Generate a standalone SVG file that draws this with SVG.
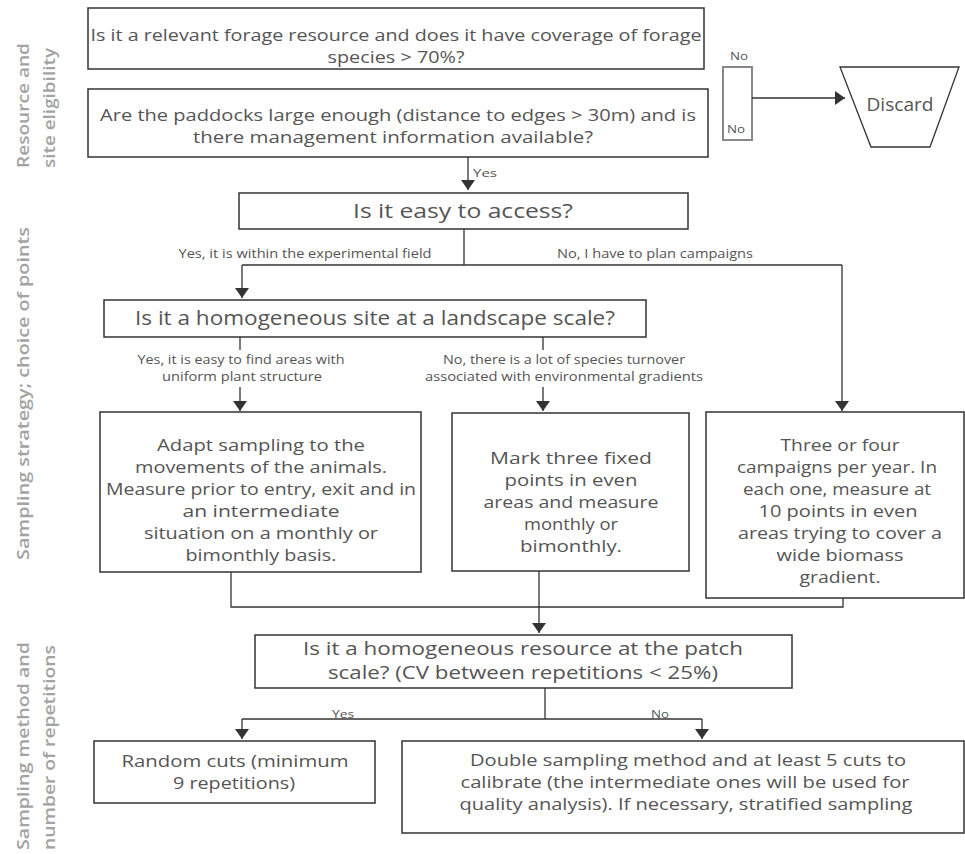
<svg xmlns="http://www.w3.org/2000/svg" width="965" height="854" viewBox="0 0 965 854">
<defs>
<style>
.box{fill:#fff;stroke:#333;stroke-width:1.5}
.t{font-family:"Open Sans","Liberation Sans",sans-serif;fill:#555;text-anchor:middle}
.m{font-size:16.5px}
.l{font-size:19.5px}
.s{font-size:12.5px}
.xs{font-size:11.5px}
.side{font-family:"Open Sans","Liberation Sans",sans-serif;fill:#a3a3a3;font-size:17px;font-weight:600;text-anchor:start}
.c{fill:none;stroke:#333;stroke-width:1.3}
</style>
<marker id="ah" markerWidth="10" markerHeight="14" refX="10" refY="7" orient="auto" markerUnits="userSpaceOnUse">
<path d="M0,0 L10,7 L0,14 Z" fill="#333"/>
</marker>
</defs>
<rect width="965" height="854" fill="#fff"/>

<g id="side-labels">
<text class="side" transform="translate(29,168) rotate(-90)" textLength="125" lengthAdjust="spacingAndGlyphs">Resource and</text>
<text class="side" transform="translate(55,168) rotate(-90)" textLength="120" lengthAdjust="spacingAndGlyphs">site eligibility</text>
<text class="side" transform="translate(29,560) rotate(-90)" textLength="333" lengthAdjust="spacingAndGlyphs">Sampling strategy; choice of points</text>
<text class="side" transform="translate(29,850) rotate(-90)" textLength="208" lengthAdjust="spacingAndGlyphs">Sampling method and</text>
<text class="side" transform="translate(55,850) rotate(-90)" textLength="205" lengthAdjust="spacingAndGlyphs">number of repetitions</text>
</g>

<g id="node-no">
<rect x="723" y="67" width="29" height="73" fill="#fff" stroke="#888" stroke-width="2"/>
<text class="t xs" x="739" y="60" textLength="18" lengthAdjust="spacingAndGlyphs">No</text>
<text class="t xs" x="736" y="133" textLength="18" lengthAdjust="spacingAndGlyphs">No</text>
</g>

<g id="connectors">
<path class="c" d="M752,98 H845" marker-end="url(#ah)"/>
<path class="c" d="M468,157 V190" marker-end="url(#ah)"/>
<path class="c" d="M464,229 V265"/>
<path class="c" d="M242,265 H842"/>
<path class="c" d="M242,265 V298" marker-end="url(#ah)"/>
<path class="c" d="M842,265 V411" marker-end="url(#ah)"/>
<path class="c" d="M240,337 V350"/>
<path class="c" d="M240,387 V411" marker-end="url(#ah)"/>
<path class="c" d="M543,337 V350"/>
<path class="c" d="M543,387 V411" marker-end="url(#ah)"/>
<path class="c" d="M231,572 V607 H843 V598"/>
<path class="c" d="M539,571 V633" marker-end="url(#ah)"/>
<path class="c" d="M545,688 V719"/>
<path class="c" d="M242,719 H702"/>
<path class="c" d="M242,719 V739" marker-end="url(#ah)"/>
<path class="c" d="M702,719 V739" marker-end="url(#ah)"/>
<text class="t xs" x="485" y="177" textLength="24" lengthAdjust="spacingAndGlyphs">Yes</text>
<text class="t s" x="305" y="258" textLength="253" lengthAdjust="spacingAndGlyphs">Yes, it is within the experimental field</text>
<text class="t s" x="655" y="258" textLength="196" lengthAdjust="spacingAndGlyphs">No, I have to plan campaigns</text>
<text class="t s" x="241" y="364" textLength="207" lengthAdjust="spacingAndGlyphs">Yes, it is easy to find areas with</text>
<text class="t s" x="242" y="381" textLength="160" lengthAdjust="spacingAndGlyphs">uniform plant structure</text>
<text class="t s" x="564" y="364" textLength="242" lengthAdjust="spacingAndGlyphs">No, there is a lot of species turnover</text>
<text class="t s" x="564" y="381" textLength="278" lengthAdjust="spacingAndGlyphs">associated with environmental gradients</text>
<text class="t xs" x="343" y="718" textLength="22" lengthAdjust="spacingAndGlyphs">Yes</text>
<text class="t xs" x="660" y="718" textLength="18" lengthAdjust="spacingAndGlyphs">No</text>
</g>

<g id="node-forage">
<rect class="box" x="88" y="8" width="616" height="61"/>
<text class="t m" x="396" y="41" textLength="611" lengthAdjust="spacingAndGlyphs">Is it a relevant forage resource and does it have coverage of forage</text>
<text class="t m" x="396" y="63" textLength="137" lengthAdjust="spacingAndGlyphs">species &gt; 70%?</text>
</g>

<g id="node-paddocks">
<rect class="box" x="88" y="89" width="620" height="68"/>
<text class="t m" x="398" y="121" textLength="596" lengthAdjust="spacingAndGlyphs">Are the paddocks large enough (distance to edges &gt; 30m) and is</text>
<text class="t m" x="393" y="143" textLength="400" lengthAdjust="spacingAndGlyphs">there management information available?</text>
</g>

<g id="node-discard">
<polygon points="840,67 959,67 930,147 871,147" fill="#fff" stroke="#333" stroke-width="1.3"/>
<text class="t" x="900" y="111" font-size="19" textLength="67" lengthAdjust="spacingAndGlyphs">Discard</text>
</g>

<g id="node-access">
<rect class="box" x="239" y="193" width="449" height="36"/>
<text class="t l" x="463" y="218" textLength="220" lengthAdjust="spacingAndGlyphs">Is it easy to access?</text>
</g>

<g id="node-landscape">
<rect class="box" x="104" y="300" width="542" height="37"/>
<text class="t l" x="375" y="325" textLength="480" lengthAdjust="spacingAndGlyphs">Is it a homogeneous site at a landscape scale?</text>
</g>

<g id="node-adapt">
<rect class="box" x="100" y="412" width="321" height="160"/>
<text class="t m" x="261" y="451" textLength="208" lengthAdjust="spacingAndGlyphs">Adapt sampling to the</text>
<text class="t m" x="261" y="473" textLength="252" lengthAdjust="spacingAndGlyphs">movements of the animals.</text>
<text class="t m" x="261" y="495" textLength="310" lengthAdjust="spacingAndGlyphs">Measure prior to entry, exit and in</text>
<text class="t m" x="261" y="517" textLength="157" lengthAdjust="spacingAndGlyphs">an intermediate</text>
<text class="t m" x="261" y="539" textLength="234" lengthAdjust="spacingAndGlyphs">situation on a monthly or</text>
<text class="t m" x="261" y="561" textLength="151" lengthAdjust="spacingAndGlyphs">bimonthly basis.</text>
</g>

<g id="node-mark">
<rect class="box" x="452" y="413" width="237" height="158"/>
<text class="t m" x="571" y="464" textLength="162" lengthAdjust="spacingAndGlyphs">Mark three fixed</text>
<text class="t m" x="571" y="486" textLength="133" lengthAdjust="spacingAndGlyphs">points in even</text>
<text class="t m" x="571" y="508" textLength="175" lengthAdjust="spacingAndGlyphs">areas and measure</text>
<text class="t m" x="571" y="530" textLength="94" lengthAdjust="spacingAndGlyphs">monthly or</text>
<text class="t m" x="571" y="552" textLength="102" lengthAdjust="spacingAndGlyphs">bimonthly.</text>
</g>

<g id="node-campaigns">
<rect class="box" x="706" y="412" width="258" height="186"/>
<text class="t m" x="840" y="451" textLength="119" lengthAdjust="spacingAndGlyphs">Three or four</text>
<text class="t m" x="837" y="473" textLength="200" lengthAdjust="spacingAndGlyphs">campaigns per year. In</text>
<text class="t m" x="837" y="495" textLength="188" lengthAdjust="spacingAndGlyphs">each one, measure at</text>
<text class="t m" x="838" y="517" textLength="159" lengthAdjust="spacingAndGlyphs">10 points in even</text>
<text class="t m" x="840" y="539" textLength="204" lengthAdjust="spacingAndGlyphs">areas trying to cover a</text>
<text class="t m" x="840" y="561" textLength="127" lengthAdjust="spacingAndGlyphs">wide biomass</text>
<text class="t m" x="840" y="583" textLength="81" lengthAdjust="spacingAndGlyphs">gradient.</text>
</g>

<g id="node-patch">
<rect class="box" x="255" y="635" width="537" height="53"/>
<text class="t" x="523" y="655" font-size="18" textLength="440" lengthAdjust="spacingAndGlyphs">Is it a homogeneous resource at the patch</text>
<text class="t" x="523" y="679" font-size="18" textLength="390" lengthAdjust="spacingAndGlyphs">scale? (CV between repetitions &lt; 25%)</text>
</g>

<g id="node-random">
<rect class="box" x="94" y="741" width="281" height="62"/>
<text class="t m" x="235" y="767" textLength="227" lengthAdjust="spacingAndGlyphs">Random cuts (minimum</text>
<text class="t m" x="234" y="789" textLength="122" lengthAdjust="spacingAndGlyphs">9 repetitions)</text>
</g>

<g id="node-double">
<rect class="box" x="402" y="741" width="562" height="92"/>
<text class="t m" x="688" y="766" textLength="436" lengthAdjust="spacingAndGlyphs">Double sampling method and at least 5 cuts to</text>
<text class="t m" x="685" y="788" textLength="449" lengthAdjust="spacingAndGlyphs">calibrate (the intermediate ones will be used for</text>
<text class="t m" x="686" y="810" textLength="453" lengthAdjust="spacingAndGlyphs">quality analysis). If necessary, stratified sampling</text>
</g>
</svg>
